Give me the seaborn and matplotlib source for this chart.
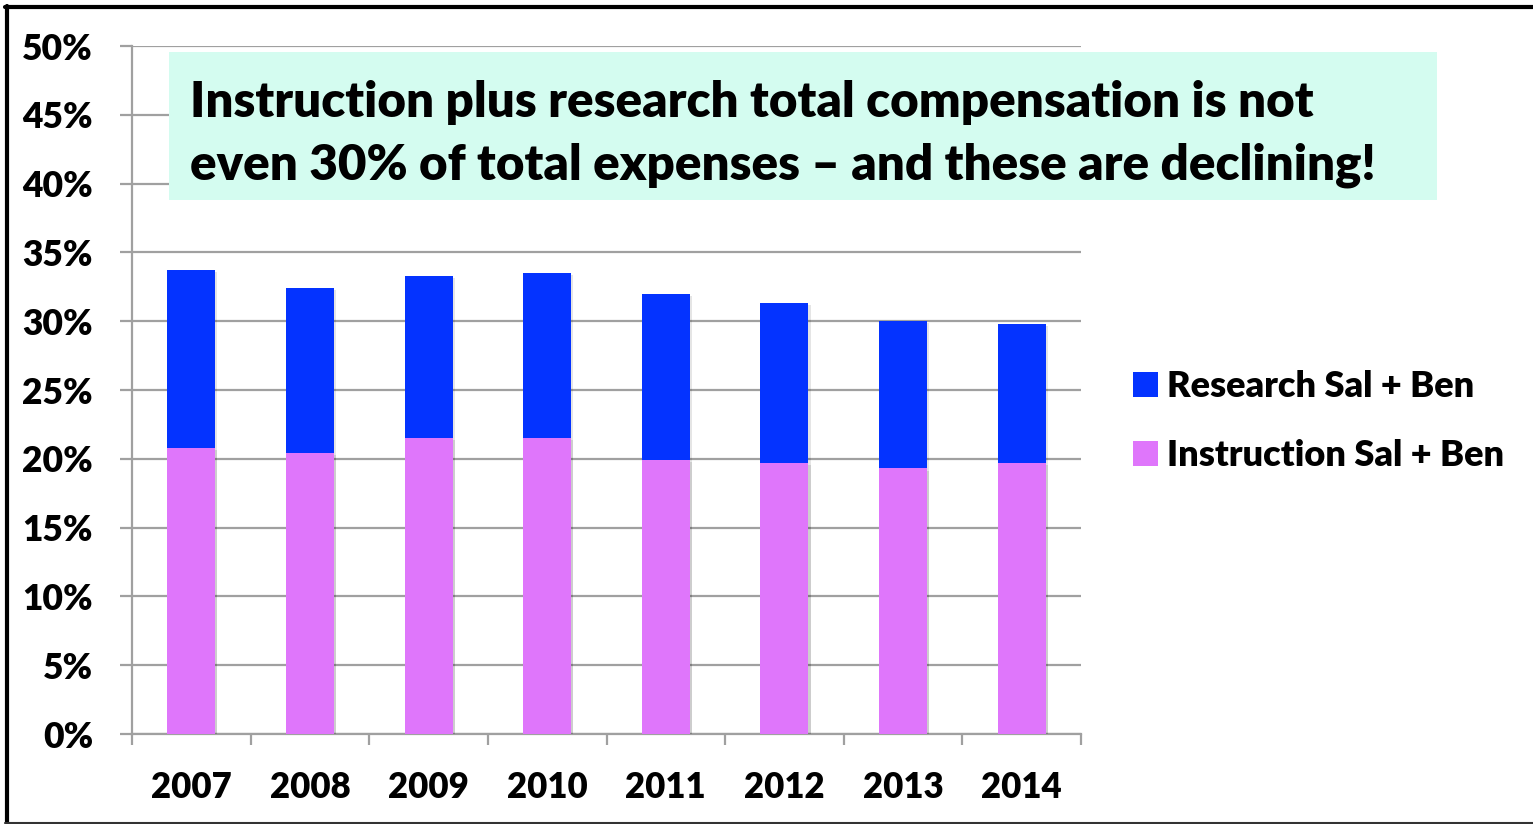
import matplotlib
matplotlib.use("Agg")
import matplotlib.pyplot as plt
import matplotlib.patheffects as pe
from matplotlib.patches import Rectangle, Patch
from matplotlib.lines import Line2D
import numpy as np
import pandas as pd
import seaborn as sns

years = ["2007", "2008", "2009", "2010", "2011", "2012", "2013", "2014"]
instruction = [20.8, 20.4, 21.5, 21.5, 19.9, 19.7, 19.3, 19.7]
research = [12.9, 12.0, 11.8, 12.0, 12.1, 11.6, 10.7, 10.1]
y_ticks = [0, 5, 10, 15, 20, 25, 30, 35, 40, 45, 50]
y_tick_labels = [f"{v}%" for v in y_ticks]
series_names = ["Research Sal + Ben", "Instruction Sal + Ben"]
headline = ["Instruction plus research total compensation is not",
            "even 30% of total expenses \u2013 and these are declining!"]

BLUE = "#0433FF"
PINK = "#DF76FB"
MINT = "#D4FCF0"
GRID = "#A0A0A0"
WEIGHT = "heavy"

sns.set_theme(style="white")
plt.rcParams["font.family"] = ["Lato", "DejaVu Sans"]
plt.rcParams["font.weight"] = WEIGHT
plt.rcParams["text.color"] = "black"

df = pd.DataFrame({"year": years,
                   "instruction": instruction,
                   "research": research})
df["total"] = df["instruction"] + df["research"]

fig = plt.figure(figsize=(15.33, 8.24), dpi=100)
fig.patch.set_facecolor("white")
ax = fig.add_axes([132 / 1533, 1 - 734 / 824, (1081 - 132) / 1533, (734 - 46) / 824])

shadow = [pe.SimplePatchShadow(offset=(1.5, -1.5), shadow_rgbFace="black", alpha=0.10), pe.Normal()]

sns.barplot(data=df, x="year", y="total", color=BLUE, width=0.405,
            saturation=1, ax=ax, zorder=3)
sns.barplot(data=df, x="year", y="instruction", color=PINK, width=0.405,
            saturation=1, ax=ax, zorder=3)
for bar in ax.patches:
    bar.set_path_effects(shadow)
    bar.set_linewidth(0)

ax.set_xlim(-0.5, len(years) - 0.5)
ax.set_ylim(0, 50)
ax.set_yticks(y_ticks)
ax.set_yticklabels(y_tick_labels)
ax.set_xlabel("")
ax.set_ylabel("")

ax.yaxis.grid(True, color=GRID, linewidth=1.6, zorder=0)
ax.set_axisbelow(True)
for side in ["top", "right"]:
    ax.spines[side].set_visible(False)
for side in ["left", "bottom"]:
    ax.spines[side].set_color(GRID)
    ax.spines[side].set_linewidth(1.6)

ax.tick_params(axis="y", which="major", direction="out", length=9, width=1.6,
               color=GRID, pad=19, labelsize=25.5, left=True)
ax.set_xticks(np.arange(-0.5, len(years), 1.0), minor=True)
ax.tick_params(axis="x", which="minor", direction="out", length=8, width=1.6,
               color=GRID, bottom=True)
ax.tick_params(axis="x", which="major", length=0, pad=27, labelsize=25)
for lbl in ax.get_xticklabels() + ax.get_yticklabels():
    lbl.set_fontweight(WEIGHT)
    lbl.set_color("black")

# headline box
fig.add_artist(Rectangle((169 / 1533, 1 - 200 / 824), (1437 - 169) / 1533, 148 / 824,
                         transform=fig.transFigure, facecolor=MINT, edgecolor="none", zorder=5))
fig.text(190 / 1533, 1 - 117 / 824, headline[0], fontsize=35.5, fontweight=WEIGHT,
         color="black", va="baseline", ha="left", zorder=6)
fig.text(190 / 1533, 1 - 180 / 824, headline[1], fontsize=35.5, fontweight=WEIGHT,
         color="black", va="baseline", ha="left", zorder=6)

# legend
handles = [Patch(facecolor=BLUE, edgecolor="none"), Patch(facecolor=PINK, edgecolor="none")]
leg = fig.legend(handles, series_names, loc="center left",
                 bbox_to_anchor=(1100 / 1533, 1 - 421 / 824), frameon=False,
                 fontsize=26, handlelength=0.7, handleheight=0.7,
                 handletextpad=0.25, labelspacing=1.0)
for t in leg.get_texts():
    t.set_fontweight(WEIGHT)
    t.set_color("black")

# outer frame
fig.add_artist(Line2D([7 / 1533, 7 / 1533], [1 - 6 / 824, 0], transform=fig.transFigure,
                      color="black", linewidth=3))
fig.add_artist(Line2D([5 / 1533, 1], [1 - 6.5 / 824, 1 - 6.5 / 824], transform=fig.transFigure,
                      color="black", linewidth=3))
fig.add_artist(Line2D([5 / 1533, 1], [1 - 823 / 824, 1 - 823 / 824], transform=fig.transFigure,
                      color="#333333", linewidth=1.5))

fig.savefig("out.png", dpi=100)
